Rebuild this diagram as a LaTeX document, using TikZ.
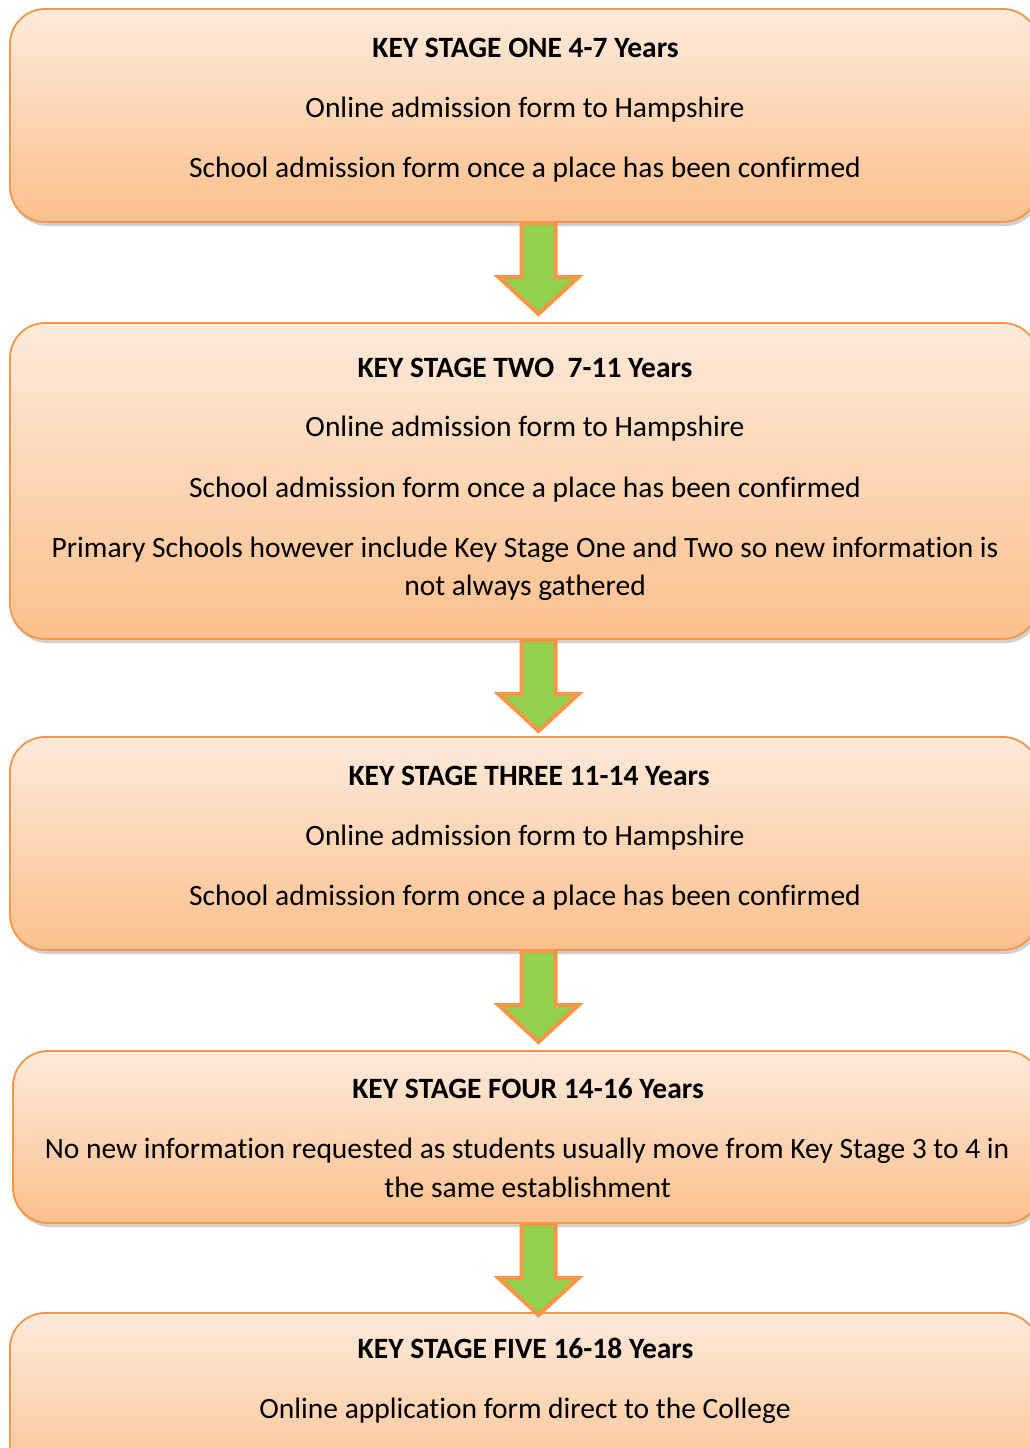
\documentclass[tikz,border=0pt]{standalone}
\usepackage{fontspec}
\setmainfont{Carlito}[Ligatures={NoCommon}]
\usetikzlibrary{shadows,calc}
\definecolor{borderorange}{HTML}{F79646}
\definecolor{boxtop}{HTML}{FDEADB}
\definecolor{boxbot}{HTML}{FBC08D}
\definecolor{arrowgreen}{HTML}{92D050}
\tikzset{
  stagebox/.style={draw=borderorange, line width=1.8pt, rounded corners=35pt,
    top color=boxtop, bottom color=boxbot, inner sep=0pt, outer sep=0pt,
    drop shadow={shadow xshift=2pt, shadow yshift=-4pt, opacity=0.3, fill=black!60}},
  txt/.style={anchor=base, inner sep=0pt, font=\fontsize{29.5}{38}\selectfont},
  ttl/.style={txt, font=\fontsize{29.5}{38}\selectfont\bfseries},
  downarrow/.style={draw=borderorange, line width=4pt, fill=arrowgreen, line join=miter}
}
\begin{document}
\begin{tikzpicture}[x=1pt,y=-1pt]
\useasboundingbox (0,0) rectangle (1030,1448);
\clip (0,0) rectangle (1030,1448);
\fill[white] (0,0) rectangle (1030,1448);

% boxes (corner to corner)
\path[stagebox] (10,9) rectangle (1038,222);
\coordinate (b1s) at (524,222);
\path[stagebox] (10,323) rectangle (1038,639);
\coordinate (b2n) at (524,323); \coordinate (b2s) at (524,639);
\path[stagebox] (10,737) rectangle (1038,950);
\coordinate (b3n) at (524,737); \coordinate (b3s) at (524,950);
\path[stagebox] (13,1051) rectangle (1041,1223);
\coordinate (b4n) at (527,1051); \coordinate (b4s) at (527,1223);
\path[stagebox] (10,1313) rectangle (1038,1500);
\coordinate (b5n) at (524,1313);

\coordinate (ax) at (538.5,0);

% arrows
\foreach \s in {b1s,b2s,b3s,b4s}{
  \draw[downarrow] ($(\s -| ax)+(-17,1)$) -- ++(0,54) -- ++(-23,0) -- ($(\s -| ax)+(0,92)$)
    -- ($(\s -| ax)+(40,55)$) -- ++(-23,0) -- ++(0,-54) -- cycle;
}

% box 1 texts
\node[ttl] (t1a) at (525.5,57) {KEY STAGE ONE 4-7 Years};
\node[txt] (t1b) at (525,117) {Online admission form to Hampshire};
\node[txt] (t1c) at (525,177) {School admission form once a place has been confirmed};

% box 2 texts
\node[ttl] (t2a) at (525,377) {KEY STAGE TWO\ \ 7-11 Years};
\node[txt] (t2b) at (525,436) {Online admission form to Hampshire};
\node[txt] (t2c) at (525,497) {School admission form once a place has been confirmed};
\node[txt] (t2d) at (525,557) {Primary Schools however include Key Stage One and Two so new information is};
\node[txt] (t2e) at (525,595) {not always gathered};

% box 3 texts
\node[ttl] (t3a) at (529,785) {KEY STAGE THREE 11-14 Years};
\node[txt] (t3b) at (525,845) {Online admission form to Hampshire};
\node[txt] (t3c) at (525,905) {School admission form once a place has been confirmed};

% box 4 texts
\node[ttl] (t4a) at (528,1098) {KEY STAGE FOUR 14-16 Years};
\node[txt] (t4b) at (527,1158) {No new information requested as students usually move from Key Stage 3 to 4 in};
\node[txt] (t4c) at (527.5,1197) {the same establishment};

% box 5 texts
\node[ttl] (t5a) at (525.5,1358) {KEY STAGE FIVE 16-18 Years};
\node[txt] (t5b) at (525,1418) {Online application form direct to the College};
\end{tikzpicture}
\end{document}
